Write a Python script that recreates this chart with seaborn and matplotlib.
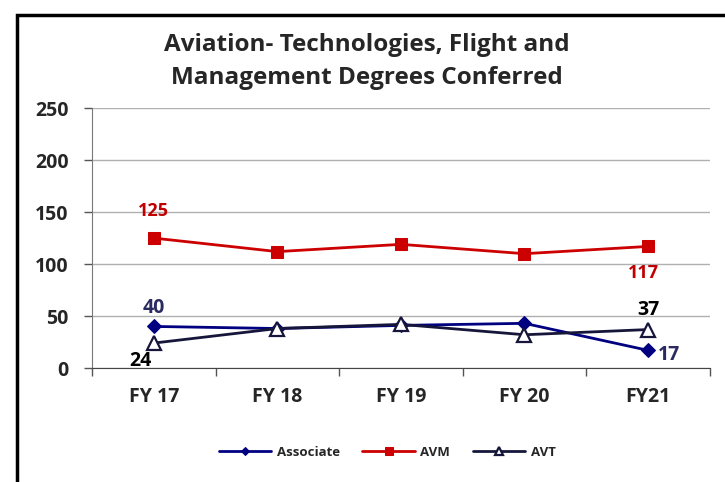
import pandas as pd
import matplotlib.pyplot as plt
import seaborn as sns
from matplotlib.patches import Rectangle
from matplotlib.ticker import MultipleLocator, FixedLocator

sns.set_style('white')
plt.rcParams['font.family'] = ['Open Sans', 'DejaVu Sans']

years = ['FY 17', 'FY 18', 'FY 19', 'FY 20', 'FY21']
associate = [40, 38, 41, 43, 17]
avm = [125, 112, 119, 110, 117]
avt = [24, 38, 42, 32, 37]

df = pd.DataFrame({'year': years * 3,
                   'value': associate + avm + avt,
                   'series': ['Associate'] * 5 + ['AVM'] * 5 + ['AVT'] * 5})

fig = plt.figure(figsize=(7.25, 4.82), dpi=100)
ax = fig.add_axes([0.127, 0.2365, 0.852, 0.539])

styles = {
    'Associate': dict(color='#000080', marker='D', markersize=7, mfc='#000080', mec='#000080'),
    'AVM': dict(color='#CC0000', marker='s', markersize=9, mfc='#CC0000', mec='#CC0000'),
    'AVT': dict(color='#16163a', marker='^', markersize=10, mfc='white', mec='#16163a', mew=1.6),
}
for name, st in styles.items():
    sub = df[df['series'] == name]
    sns.lineplot(data=sub, x='year', y='value', ax=ax, label=name, linewidth=2,
                 sort=False, **st)

ax.set_xlim(-0.5, 4.5)
ax.set_ylim(0, 250)
ax.yaxis.set_major_locator(MultipleLocator(50))
ax.grid(axis='y', color='#b0b0b0', linewidth=1)
ax.set_xlabel('')
ax.set_ylabel('')

# x ticks at category boundaries
ax.set_xticks(range(5))
ax.set_xticklabels(years, fontsize=14, fontweight='bold')
ax.xaxis.set_minor_locator(FixedLocator([i - 0.5 for i in range(6)]))
ax.tick_params(axis='x', which='major', length=0, pad=14)
ax.tick_params(axis='x', which='minor', length=6, width=1, color='#555555', direction='out', bottom=True)
ax.tick_params(axis='y', which='major', length=6, width=1, color='#555555', direction='out', left=True,
               labelsize=14, pad=11)
for lbl in ax.get_yticklabels():
    lbl.set_fontweight('bold')

for side in ['top', 'right']:
    ax.spines[side].set_visible(False)
ax.spines['left'].set_color('#777777')
ax.spines['bottom'].set_color('#444444')

# data labels
lab = dict(textcoords='offset points', fontweight='bold')
ax.annotate('125', (0, avm[0]), xytext=(0, 13), ha='center', va='bottom', color='#C00000', fontsize=13, **lab)
ax.annotate('117', (4, avm[4]), xytext=(-3, -13), ha='center', va='top', color='#C00000', fontsize=13, **lab)
ax.annotate('40', (0, associate[0]), xytext=(0, 6), ha='center', va='bottom', color='#2b2a60', fontsize=14, **lab)
ax.annotate('17', (4, associate[4]), xytext=(7, -3), ha='left', va='center', color='#2b2a60', fontsize=14, **lab)
ax.annotate('24', (0, avt[0]), xytext=(-10, -13), ha='center', va='center', color='black', fontsize=14, **lab)
ax.annotate('37', (4, avt[4]), xytext=(0, 7), ha='center', va='bottom', color='black', fontsize=14, **lab)

fig.text(0.506, 0.872, 'Aviation- Technologies, Flight and\nManagement Degrees Conferred',
         ha='center', va='center', fontsize=17.5, fontweight='bold', linespacing=1.5)

leg = ax.legend(loc='center', bbox_to_anchor=(0.534, 0.062), bbox_transform=fig.transFigure,
                ncol=3, frameon=False, prop={'size': 9.5, 'weight': 'bold'}, markerscale=0.6,
                handlelength=4, columnspacing=1.7, handletextpad=0.4)

fig.patches.append(Rectangle((0.0235, -0.02), 1.0, 0.989, transform=fig.transFigure,
                             fill=False, edgecolor='black', linewidth=2.5))

fig.savefig('out.png', dpi=100)
